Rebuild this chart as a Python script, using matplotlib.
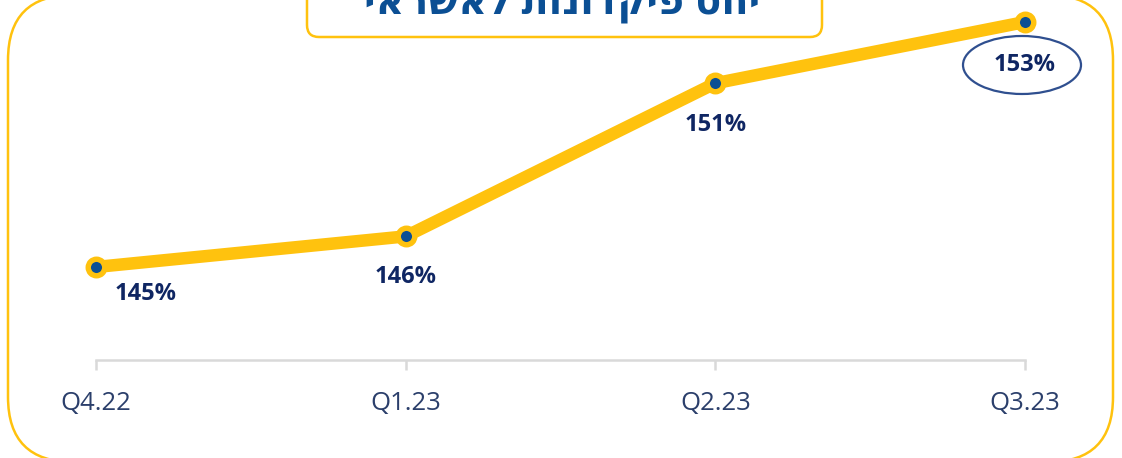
import matplotlib.pyplot as plt
from matplotlib.patches import FancyBboxPatch, Ellipse
from matplotlib.transforms import ScaledTranslation

# data
quarters = ["Q4.22", "Q1.23", "Q2.23", "Q3.23"]
ratio = [145, 146, 151, 153]
labels = ["145%", "146%", "151%", "153%"]
title = "יחס פיקדונות לאשראי"

YELLOW = "#ffc20e"
BLUE = "#0b4f94"
NAVY = "#0f2663"
TICK_COLOR = "#2b3f6b"

W, H = 1122, 458
fig = plt.figure(figsize=(W / 100, H / 100), dpi=100)

# rounded frame around the whole card (filled, so agg does not clip the curves)
frame = FancyBboxPatch((0.08, -0.04), 11.05, 4.67,
                       boxstyle="round,pad=0,rounding_size=0.65",
                       transform=fig.dpi_scale_trans, facecolor="white",
                       edgecolor=YELLOW, linewidth=1.8, zorder=-1)
fig.patches.append(frame)

# title box (cut at the top)
tbox = FancyBboxPatch((3.07, 4.21), 5.15, 0.6,
                      boxstyle="round,pad=0,rounding_size=0.12",
                      transform=fig.dpi_scale_trans, facecolor="white",
                      edgecolor=YELLOW, linewidth=1.8)
fig.patches.append(tbox)
# matplotlib has no bidi, reverse the hebrew string by hand
fig.text(562 / W, 1 - 14 / H, title[::-1], ha="center", va="baseline",
         fontsize=28.5, fontweight="bold", color=BLUE,
         family=["Open Sans", "DejaVu Sans"])

ax = fig.add_axes([96 / W, (H - 360) / H, 929 / W, 360 / H])
x = list(range(len(quarters)))
ax.plot(x, ratio, color=YELLOW, linewidth=9, solid_capstyle="round",
        marker="o", markersize=11.9, markerfacecolor=BLUE,
        markeredgecolor=YELLOW, markeredgewidth=3.9, clip_on=False, zorder=3)

ax.set_xlim(0, 3)
ax.set_ylim(141.963, 153.718)

offsets = [(50, -27), (0, -41), (0, -42), (0, -43)]
for i, (v, lab) in enumerate(zip(ratio, labels)):
    ax.annotate(lab, (x[i], v), xytext=offsets[i], textcoords="offset pixels",
                ha="center", va="center", fontsize=17, fontweight="bold",
                color=NAVY, family="Open Sans", zorder=4)

# highlight of the last value
trans = ScaledTranslation(x[-1], ratio[-1], ax.transData)
ell = Ellipse((-3, -43), 118, 58, transform=trans, fill=False,
              edgecolor="#2f4f8f", linewidth=1.6, clip_on=False)
ax.add_patch(ell)

for s in ["top", "left", "right"]:
    ax.spines[s].set_visible(False)
ax.spines["bottom"].set_color("#d9d9d9")
ax.spines["bottom"].set_linewidth(1.8)
ax.patch.set_alpha(0)
ax.set_yticks([])
ax.set_xticks(x)
ax.set_xticklabels(quarters, fontsize=18.5, color=TICK_COLOR, family="Open Sans")
ax.tick_params(axis="x", direction="out", length=7.2, width=1.8,
               color="#d9d9d9", pad=15)

fig.savefig("out.png", dpi=100)
